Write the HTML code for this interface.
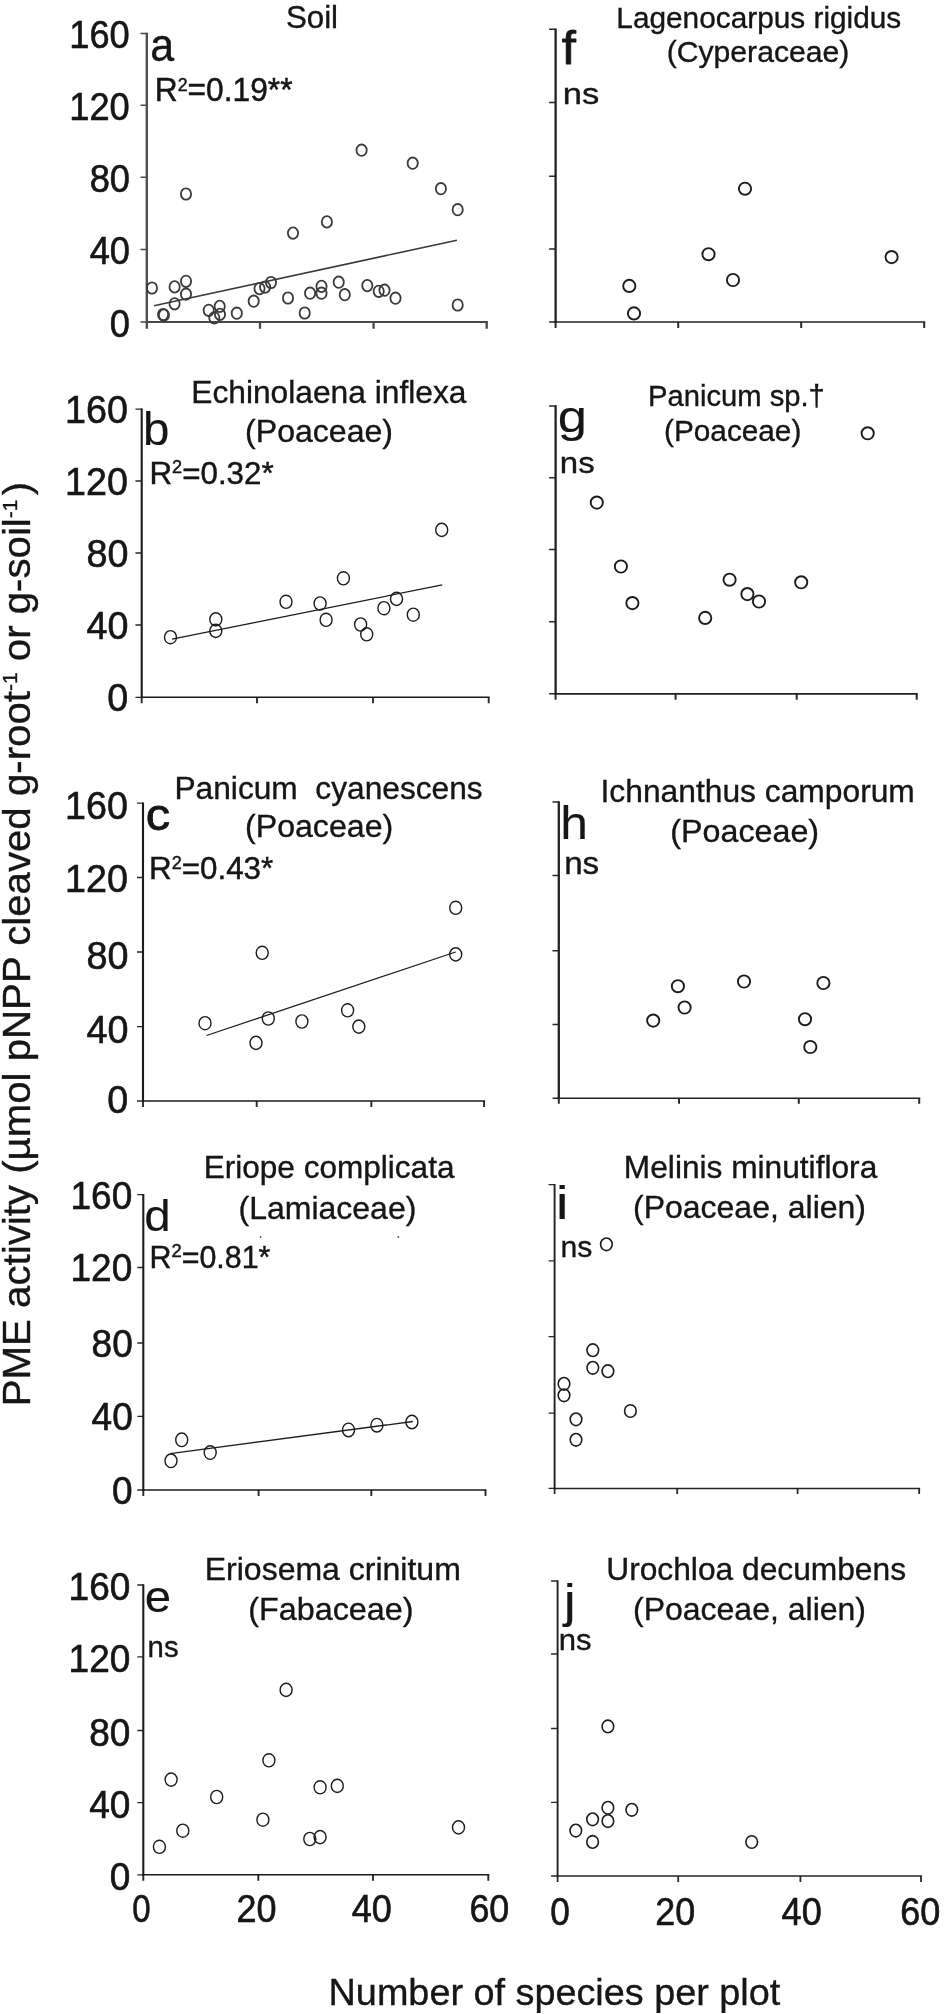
<!DOCTYPE html>
<html lang="en"><head><meta charset="utf-8"><title>PME activity vs. number of species per plot</title>
<style>
html,body{margin:0;padding:0;background:#fff;}
body{width:944px;height:2014px;overflow:hidden;}
svg{display:block;}
svg text{font-family:"Liberation Sans", Arial, Helvetica, sans-serif;fill:#141414;stroke:#141414;stroke-width:0.35px;}
.pt{fill:none;stroke:#1c1c1c;}
.sb{stroke-linejoin:round;}
.tk{stroke-width:0.6px;}.st{stroke-width:0.45px;}.pl{stroke-width:0.1px;}
.fit{stroke:#1c1c1c;stroke-width:1.25;fill:none;}
</style></head><body>
<svg width="944" height="2014" viewBox="0 0 944 2014">
<rect x="0" y="0" width="944" height="2014" fill="#fff"/>
<defs><filter id="soft" x="0" y="0" width="944" height="2014" filterUnits="userSpaceOnUse"><feGaussianBlur stdDeviation="0.45"/></filter></defs>
<g filter="url(#soft)">
<text id="ytitle" transform="matrix(0 -1.0235 1 0 30.4 1406.22)" font-size="39.3" xml:space="preserve">PME activity (µmol pNPP cleaved g-root<tspan font-size="20.5" dy="-13.5">-1</tspan><tspan dy="13.5"> or g-soil</tspan><tspan font-size="20.5" dy="-13.5">-1</tspan><tspan dy="13.5" dx="4.3">)</tspan></text>
<text x="328.57" y="2004.6" font-size="37.8" xml:space="preserve">Number of species per plot</text>
<g id="panel-a">
<path d="M140.5 33.5H146.8M140.5 105.3H146.8M140.5 177.3H146.8M140.5 249.5H146.8M140.5 322H146.8" stroke="#4a4a4a" stroke-width="1.6" fill="none"/>
<path d="M146.8 322V328.8M260 322V328.8M373.6 322V328.8M486.7 322V328.8" stroke="#4a4a4a" stroke-width="2.3" fill="none"/>
<path d="M146.8 32.7V323.05" stroke="#4a4a4a" stroke-width="2.3" fill="none"/>
<path d="M145.65 322H487.85" stroke="#4a4a4a" stroke-width="2.1" fill="none"/>
<text transform="matrix(0.93 0 0 1 69.26 48)" font-size="39" class="tk" xml:space="preserve">160</text>
<text transform="matrix(0.93 0 0 1 69.26 119.8)" font-size="39" class="tk" xml:space="preserve">120</text>
<text transform="matrix(0.93 0 0 1 89.69 191.8)" font-size="39" class="tk" xml:space="preserve">80</text>
<text transform="matrix(0.93 0 0 1 89.69 264)" font-size="39" class="tk" xml:space="preserve">40</text>
<text transform="matrix(0.93 0 0 1 109.82 336.5)" font-size="39" class="tk" xml:space="preserve">0</text>
<line class="fit" x1="154" y1="305.8" x2="456.9" y2="240.2" style="stroke-width:1.6px;stroke:#3a3a3a"/>
<g class="pt" stroke-width="1.8" style="stroke:#3a3a3a">
<ellipse cx="152" cy="288" rx="5.1" ry="5.7"/>
<ellipse cx="163.1" cy="314.5" rx="5.1" ry="5.7"/>
<ellipse cx="163.9" cy="315.1" rx="5.1" ry="5.7"/>
<ellipse cx="174.6" cy="303.8" rx="5.1" ry="5.7"/>
<ellipse cx="174.6" cy="286.9" rx="5.1" ry="5.7"/>
<ellipse cx="186" cy="281.3" rx="5.1" ry="5.7"/>
<ellipse cx="186" cy="294.2" rx="5.1" ry="5.7"/>
<ellipse cx="186" cy="194" rx="5.1" ry="5.7"/>
<ellipse cx="208.7" cy="310.3" rx="5.1" ry="5.7"/>
<ellipse cx="214.3" cy="317.8" rx="5.1" ry="5.7"/>
<ellipse cx="219.7" cy="306.4" rx="5.1" ry="5.7"/>
<ellipse cx="220" cy="314.4" rx="5.1" ry="5.7"/>
<ellipse cx="236.8" cy="313.2" rx="5.1" ry="5.7"/>
<ellipse cx="253.7" cy="301.2" rx="5.1" ry="5.7"/>
<ellipse cx="259.5" cy="288.6" rx="5.1" ry="5.7"/>
<ellipse cx="265.1" cy="287.1" rx="5.1" ry="5.7"/>
<ellipse cx="271" cy="282.5" rx="5.1" ry="5.7"/>
<ellipse cx="288" cy="298" rx="5.1" ry="5.7"/>
<ellipse cx="293" cy="233.1" rx="5.1" ry="5.7"/>
<ellipse cx="304.7" cy="313" rx="5.1" ry="5.7"/>
<ellipse cx="310.1" cy="293.2" rx="5.1" ry="5.7"/>
<ellipse cx="321.5" cy="286.4" rx="5.1" ry="5.7"/>
<ellipse cx="321.5" cy="293.2" rx="5.1" ry="5.7"/>
<ellipse cx="326.9" cy="221.9" rx="5.1" ry="5.7"/>
<ellipse cx="338.7" cy="282.2" rx="5.1" ry="5.7"/>
<ellipse cx="344.8" cy="294.7" rx="5.1" ry="5.7"/>
<ellipse cx="361.6" cy="150.2" rx="5.1" ry="5.7"/>
<ellipse cx="367.3" cy="285.6" rx="5.1" ry="5.7"/>
<ellipse cx="378.7" cy="291.3" rx="5.1" ry="5.7"/>
<ellipse cx="384.5" cy="290.2" rx="5.1" ry="5.7"/>
<ellipse cx="395.5" cy="298.2" rx="5.1" ry="5.7"/>
<ellipse cx="412.7" cy="163.2" rx="5.1" ry="5.7"/>
<ellipse cx="440.9" cy="188.7" rx="5.1" ry="5.7"/>
<ellipse cx="457.7" cy="209.7" rx="5.1" ry="5.7"/>
<ellipse cx="457.7" cy="305" rx="5.1" ry="5.7"/>
</g>
<text x="285.89" y="28" font-size="31.3" xml:space="preserve">Soil</text>
<text transform="matrix(0.9438 0 0 1 150.27 61.2)" font-size="45.5" class="sb" style="stroke-width:0.4px" xml:space="preserve">a</text>
<text class="st" transform="matrix(0.9618 0 0 1 154.76 101.4)" font-size="33">R<tspan font-size="18.5" dy="-10.8">2</tspan><tspan dy="10.8">=0.19**</tspan></text>
</g>
<g id="panel-b">
<path d="M135.4 409.2H141.7M135.4 481H141.7M135.4 553H141.7M135.4 625H141.7M135.4 697.3H141.7" stroke="#2a2a2a" stroke-width="1.3" fill="none"/>
<path d="M141.7 697.3V703.3M257 697.3V703.3M373 697.3V703.3M488.7 697.3V703.3" stroke="#2a2a2a" stroke-width="1.9" fill="none"/>
<path d="M141.7 408.55V698.07" stroke="#1a1a1a" stroke-width="2.1" fill="none"/>
<path d="M140.65 697.3H489.65" stroke="#1a1a1a" stroke-width="1.55" fill="none"/>
<text transform="matrix(0.955 0 0 1 65 423.1)" font-size="39.5" class="tk" xml:space="preserve">160</text>
<text transform="matrix(0.955 0 0 1 65 494.9)" font-size="39.5" class="tk" xml:space="preserve">120</text>
<text transform="matrix(0.955 0 0 1 86.44 566.9)" font-size="39.5" class="tk" xml:space="preserve">80</text>
<text transform="matrix(0.955 0 0 1 86.44 638.9)" font-size="39.5" class="tk" xml:space="preserve">40</text>
<text transform="matrix(0.955 0 0 1 107.37 711.2)" font-size="39.5" class="tk" xml:space="preserve">0</text>
<line class="fit" x1="172" y1="639.2" x2="442.2" y2="584.9" style="stroke-width:1.3px"/>
<g class="pt" stroke-width="1.4">
<ellipse cx="170.5" cy="637.2" rx="6" ry="6.6"/>
<ellipse cx="215.8" cy="619.4" rx="6" ry="6.6"/>
<ellipse cx="215.8" cy="630.9" rx="6" ry="6.6"/>
<ellipse cx="286" cy="601.8" rx="6" ry="6.6"/>
<ellipse cx="320.1" cy="603.5" rx="6" ry="6.6"/>
<ellipse cx="326.1" cy="619.8" rx="6" ry="6.6"/>
<ellipse cx="343.4" cy="578.3" rx="6" ry="6.6"/>
<ellipse cx="360.6" cy="624.5" rx="6" ry="6.6"/>
<ellipse cx="366.7" cy="634.3" rx="6" ry="6.6"/>
<ellipse cx="383.9" cy="608.2" rx="6" ry="6.6"/>
<ellipse cx="396.5" cy="598.9" rx="6" ry="6.6"/>
<ellipse cx="413.3" cy="614.7" rx="6" ry="6.6"/>
<ellipse cx="441.7" cy="529.9" rx="6" ry="6.6"/>
</g>
<text transform="matrix(0.9917 0 0 1 191.26 402.7)" font-size="32" xml:space="preserve">Echinolaena inflexa</text>
<text transform="matrix(1.0181 0 0 1 245.08 442)" font-size="31.5" xml:space="preserve">(Poaceae)</text>
<text transform="matrix(1.0452 0 0 1 143.11 445)" font-size="45.5" class="pl" xml:space="preserve">b</text>
<text class="st" transform="matrix(0.9787 0 0 1 149.49 483.8)" font-size="32">R<tspan font-size="18.5" dy="-10.8">2</tspan><tspan dy="10.8">=0.32*</tspan></text>
</g>
<g id="panel-c">
<path d="M137 803.2H143M137 877.5H143M137 952H143M137 1026.6H143M137 1101H143" stroke="#2a2a2a" stroke-width="1.3" fill="none"/>
<path d="M143 1101V1107M256.7 1101V1107M371.3 1101V1107M484.1 1101V1107" stroke="#2a2a2a" stroke-width="1.9" fill="none"/>
<path d="M143 802.55V1101.78" stroke="#1a1a1a" stroke-width="2.1" fill="none"/>
<path d="M141.95 1101H485.05" stroke="#1a1a1a" stroke-width="1.55" fill="none"/>
<text transform="matrix(0.955 0 0 1 65 819.4)" font-size="39.5" class="tk" xml:space="preserve">160</text>
<text transform="matrix(0.955 0 0 1 65 892.4)" font-size="39.5" class="tk" xml:space="preserve">120</text>
<text transform="matrix(0.955 0 0 1 86.44 969.3)" font-size="39.5" class="tk" xml:space="preserve">80</text>
<text transform="matrix(0.955 0 0 1 86.44 1042.5)" font-size="39.5" class="tk" xml:space="preserve">40</text>
<text transform="matrix(0.955 0 0 1 107.37 1112.9)" font-size="39.5" class="tk" xml:space="preserve">0</text>
<line class="fit" x1="206.5" y1="1035.5" x2="455.7" y2="952" style="stroke-width:1.3px"/>
<g class="pt" stroke-width="1.4">
<ellipse cx="205" cy="1023.2" rx="6" ry="6.6"/>
<ellipse cx="256" cy="1042.9" rx="6" ry="6.6"/>
<ellipse cx="262.2" cy="952.8" rx="6" ry="6.6"/>
<ellipse cx="268.3" cy="1018.5" rx="6" ry="6.6"/>
<ellipse cx="301.9" cy="1021.5" rx="6" ry="6.6"/>
<ellipse cx="347.6" cy="1010.3" rx="6" ry="6.6"/>
<ellipse cx="358.8" cy="1026.6" rx="6" ry="6.6"/>
<ellipse cx="455.7" cy="907.8" rx="6" ry="6.6"/>
<ellipse cx="455.7" cy="954.4" rx="6" ry="6.6"/>
</g>
<text transform="matrix(1.0225 0 0 1 174.46 798.6)" font-size="31" xml:space="preserve">Panicum  cyanescens</text>
<text transform="matrix(1.036 0 0 1 245.07 837.3)" font-size="31" xml:space="preserve">(Poaceae)</text>
<text transform="matrix(1.0853 0 0 1 145.7 830.3)" font-size="45" class="sb" style="stroke-width:0.8px" xml:space="preserve">c</text>
<text class="st" transform="matrix(0.9803 0 0 1 148.99 879.4)" font-size="32">R<tspan font-size="18.5" dy="-10.8">2</tspan><tspan dy="10.8">=0.43*</tspan></text>
</g>
<g id="panel-d">
<path d="M137.3 1194.7H143.3M137.3 1267.5H143.3M137.3 1343H143.3M137.3 1416.3H143.3M137.3 1490H143.3" stroke="#2a2a2a" stroke-width="1.3" fill="none"/>
<path d="M143.3 1490V1496M258.6 1490V1496M371.3 1490V1496M485.5 1490V1496" stroke="#2a2a2a" stroke-width="1.9" fill="none"/>
<path d="M143.3 1194.05V1490.78" stroke="#1a1a1a" stroke-width="2.1" fill="none"/>
<path d="M142.25 1490H486.45" stroke="#1a1a1a" stroke-width="1.55" fill="none"/>
<text transform="matrix(0.95 0 0 1 70.49 1208.5)" font-size="39" class="tk" xml:space="preserve">160</text>
<text transform="matrix(0.95 0 0 1 70.49 1281.3)" font-size="39" class="tk" xml:space="preserve">120</text>
<text transform="matrix(0.95 0 0 1 91.56 1356.8)" font-size="39" class="tk" xml:space="preserve">80</text>
<text transform="matrix(0.95 0 0 1 91.56 1430.1)" font-size="39" class="tk" xml:space="preserve">40</text>
<text transform="matrix(0.95 0 0 1 112.12 1503.8)" font-size="39" class="tk" xml:space="preserve">0</text>
<line class="fit" x1="170" y1="1453.6" x2="412.8" y2="1421.5" style="stroke-width:1.3px"/>
<g class="pt" stroke-width="1.4">
<ellipse cx="171" cy="1460.8" rx="6" ry="6.8"/>
<ellipse cx="181.7" cy="1439.8" rx="6" ry="6.8"/>
<ellipse cx="210.2" cy="1452.6" rx="6" ry="6.8"/>
<ellipse cx="348.5" cy="1429.9" rx="6" ry="6.8"/>
<ellipse cx="376.9" cy="1425.2" rx="6" ry="6.8"/>
<ellipse cx="411.9" cy="1422" rx="6" ry="6.8"/>
</g>
<circle cx="260.6" cy="1237" r="0.9" fill="#555"/>
<circle cx="398.3" cy="1237" r="0.9" fill="#555"/>
<text transform="matrix(0.9866 0 0 1 203.67 1178.1)" font-size="32" xml:space="preserve">Eriope complicata</text>
<text x="238.48" y="1218.8" font-size="32" xml:space="preserve">(Lamiaceae)</text>
<text transform="matrix(1.0687 0 0 1 144.3 1231)" font-size="44.5" class="pl" xml:space="preserve">d</text>
<text class="st" transform="matrix(0.9956 0 0 1 149.57 1268)" font-size="30.5">R<tspan font-size="18.5" dy="-10.8">2</tspan><tspan dy="10.8">=0.81*</tspan></text>
</g>
<g id="panel-e">
<path d="M137.3 1585H143.3M137.3 1656.8H143.3M137.3 1730.5H143.3M137.3 1802.6H143.3M137.3 1874.8H143.3" stroke="#2a2a2a" stroke-width="1.3" fill="none"/>
<path d="M143.3 1874.8V1880.8M258.3 1874.8V1880.8M373 1874.8V1880.8M488.3 1874.8V1880.8" stroke="#2a2a2a" stroke-width="1.9" fill="none"/>
<path d="M143.3 1584.35V1875.58" stroke="#1a1a1a" stroke-width="2.1" fill="none"/>
<path d="M142.25 1874.8H489.25" stroke="#1a1a1a" stroke-width="1.55" fill="none"/>
<text transform="matrix(0.95 0 0 1 68.59 1600.4)" font-size="39" class="tk" xml:space="preserve">160</text>
<text transform="matrix(0.95 0 0 1 68.59 1672.2)" font-size="39" class="tk" xml:space="preserve">120</text>
<text transform="matrix(0.95 0 0 1 89.16 1745.9)" font-size="39" class="tk" xml:space="preserve">80</text>
<text transform="matrix(0.95 0 0 1 89.16 1818)" font-size="39" class="tk" xml:space="preserve">40</text>
<text transform="matrix(0.95 0 0 1 109.72 1890.2)" font-size="39" class="tk" xml:space="preserve">0</text>
<text transform="matrix(0.8475 0 0 1 132.28 1922.1)" font-size="39" class="tk" xml:space="preserve">0</text>
<text transform="matrix(0.9226 0 0 1 236.5 1922.1)" font-size="39" class="tk" xml:space="preserve">20</text>
<text transform="matrix(0.925 0 0 1 351.7 1922.1)" font-size="39" class="tk" xml:space="preserve">40</text>
<text transform="matrix(0.9201 0 0 1 469.41 1922.1)" font-size="39" class="tk" xml:space="preserve">60</text>
<g class="pt" stroke-width="1.4">
<ellipse cx="159.4" cy="1846.8" rx="6" ry="6.6"/>
<ellipse cx="171.1" cy="1779.6" rx="6" ry="6.6"/>
<ellipse cx="182.8" cy="1830.7" rx="6" ry="6.6"/>
<ellipse cx="216.7" cy="1797" rx="6" ry="6.6"/>
<ellipse cx="262.9" cy="1819.7" rx="6" ry="6.6"/>
<ellipse cx="268.9" cy="1760.3" rx="6" ry="6.6"/>
<ellipse cx="286.1" cy="1689.9" rx="6" ry="6.6"/>
<ellipse cx="309.8" cy="1839" rx="6" ry="6.6"/>
<ellipse cx="320.1" cy="1837.1" rx="6" ry="6.6"/>
<ellipse cx="320.1" cy="1787.3" rx="6" ry="6.6"/>
<ellipse cx="337.3" cy="1785.9" rx="6" ry="6.6"/>
<ellipse cx="458.5" cy="1827.4" rx="6" ry="6.6"/>
</g>
<text x="204.75" y="1580.4" font-size="32" xml:space="preserve">Eriosema crinitum</text>
<text transform="matrix(1.0095 0 0 1 248.36 1620.2)" font-size="32" xml:space="preserve">(Fabaceae)</text>
<text transform="matrix(1.0632 0 0 1 144.77 1612)" font-size="44.5" class="pl" xml:space="preserve">e</text>
<text transform="matrix(0.9773 0 0 1 147.59 1657)" font-size="30" xml:space="preserve">ns</text>
</g>
<g id="panel-f">
<path d="M549.1 29.3H555.6M549.1 102.5H555.6M549.1 176.2H555.6M549.1 249H555.6M549.1 322H555.6" stroke="#2a2a2a" stroke-width="1.5" fill="none"/>
<path d="M555.6 322V328M678.2 322V328M801.2 322V328M924.2 322V328" stroke="#2a2a2a" stroke-width="2" fill="none"/>
<path d="M555.6 28.55V322.82" stroke="#222" stroke-width="2.3" fill="none"/>
<path d="M554.45 322H925.2" stroke="#222" stroke-width="1.65" fill="none"/>
<g class="pt" stroke-width="1.9">
<circle cx="629.3" cy="285.9" r="6.1"/>
<circle cx="634" cy="313.4" r="6.1"/>
<circle cx="708.5" cy="254.2" r="6.1"/>
<circle cx="733" cy="280" r="6.1"/>
<circle cx="745" cy="188.7" r="6.1"/>
<circle cx="891.6" cy="257.1" r="6.1"/>
</g>
<text x="616.32" y="27.6" font-size="29.8" xml:space="preserve">Lagenocarpus rigidus</text>
<text transform="matrix(1.0121 0 0 1 666.69 62.3)" font-size="29.8" xml:space="preserve">(Cyperaceae)</text>
<text transform="matrix(1.1075 0 0 1 561.64 64)" font-size="46" class="sb" style="stroke-width:0.8px" xml:space="preserve">f</text>
<text transform="matrix(1.1518 0 0 1 562.75 103.8)" font-size="30" xml:space="preserve">ns</text>
</g>
<g id="panel-g">
<path d="M549.1 406.1H555.6M549.1 477.8H555.6M549.1 549.4H555.6M549.1 621.7H555.6M549.1 693.8H555.6" stroke="#2a2a2a" stroke-width="1.5" fill="none"/>
<path d="M555.6 693.8V699.8M675.6 693.8V699.8M796.7 693.8V699.8M916.7 693.8V699.8" stroke="#2a2a2a" stroke-width="2" fill="none"/>
<path d="M555.6 405.35V694.62" stroke="#222" stroke-width="2.3" fill="none"/>
<path d="M554.45 693.8H917.7" stroke="#222" stroke-width="1.65" fill="none"/>
<g class="pt" stroke-width="1.9">
<circle cx="596.8" cy="502.6" r="6.1"/>
<circle cx="620.9" cy="566.5" r="6.1"/>
<circle cx="632.4" cy="603.1" r="6.1"/>
<circle cx="705.2" cy="617.9" r="6.1"/>
<circle cx="729.6" cy="579.7" r="6.1"/>
<circle cx="747.4" cy="594.1" r="6.1"/>
<circle cx="759" cy="601.5" r="6.1"/>
<circle cx="801.2" cy="582.3" r="6.1"/>
<circle cx="867.7" cy="433.3" r="6.1"/>
</g>
<text transform="matrix(0.9798 0 0 1 647.96 406.2)" font-size="29.8" xml:space="preserve">Panicum sp.†</text>
<text transform="matrix(1.0094 0 0 1 664.01 440.6)" font-size="29.5" xml:space="preserve">(Poaceae)</text>
<text transform="matrix(1.1835 0 0 1 557.79 431.9)" font-size="44.5" class="pl" xml:space="preserve">g</text>
<text transform="matrix(1.1181 0 0 1 559.86 472.5)" font-size="29.5" xml:space="preserve">ns</text>
</g>
<g id="panel-h">
<path d="M552.5 802H558.8M552.5 875.6H558.8M552.5 950.8H558.8M552.5 1024.5H558.8M552.5 1098.2H558.8" stroke="#2a2a2a" stroke-width="1.5" fill="none"/>
<path d="M558.8 1098.2V1103.7M679 1098.2V1103.7M798.8 1098.2V1103.7M919.2 1098.2V1103.7" stroke="#2a2a2a" stroke-width="2" fill="none"/>
<path d="M558.8 801.25V1099.03" stroke="#222" stroke-width="2.3" fill="none"/>
<path d="M557.65 1098.2H920.2" stroke="#222" stroke-width="1.65" fill="none"/>
<g class="pt" stroke-width="1.9">
<circle cx="653.2" cy="1020.6" r="6.1"/>
<circle cx="677.9" cy="986.2" r="6.1"/>
<circle cx="684.6" cy="1007.5" r="6.1"/>
<circle cx="744" cy="981.5" r="6.1"/>
<circle cx="805" cy="1019.2" r="6.1"/>
<circle cx="810.3" cy="1047" r="6.1"/>
<circle cx="823.4" cy="983" r="6.1"/>
</g>
<text transform="matrix(0.9932 0 0 1 600.54 802)" font-size="32" xml:space="preserve">Ichnanthus camporum</text>
<text transform="matrix(1.0071 0 0 1 670.37 842.2)" font-size="32" xml:space="preserve">(Poaceae)</text>
<text transform="matrix(1.0818 0 0 1 560.22 838.8)" font-size="46" class="pl" xml:space="preserve">h</text>
<text transform="matrix(1.0883 0 0 1 564.14 874.3)" font-size="30.5" xml:space="preserve">ns</text>
</g>
<g id="panel-i">
<path d="M548.6 1184.7H554.6M548.6 1260.8H554.6M548.6 1336.6H554.6M548.6 1413.2H554.6M548.6 1488.4H554.6" stroke="#2a2a2a" stroke-width="1.3" fill="none"/>
<path d="M554.6 1488.4V1493.9M677.2 1488.4V1493.9M797.6 1488.4V1493.9M919.2 1488.4V1493.9" stroke="#2a2a2a" stroke-width="1.8" fill="none"/>
<path d="M554.6 1184.05V1489.18" stroke="#222" stroke-width="1.9" fill="none"/>
<path d="M553.65 1488.4H920.1" stroke="#222" stroke-width="1.55" fill="none"/>
<g class="pt" stroke-width="1.6">
<ellipse cx="564" cy="1383.8" rx="5.8" ry="6.3"/>
<ellipse cx="564" cy="1395.3" rx="5.8" ry="6.3"/>
<ellipse cx="576" cy="1419.3" rx="5.8" ry="6.3"/>
<ellipse cx="576" cy="1439.8" rx="5.8" ry="6.3"/>
<ellipse cx="592.8" cy="1350.2" rx="5.8" ry="6.3"/>
<ellipse cx="592.8" cy="1367.8" rx="5.8" ry="6.3"/>
<ellipse cx="607.9" cy="1371.2" rx="5.8" ry="6.3"/>
<ellipse cx="606.4" cy="1244.3" rx="5.8" ry="6.3"/>
<ellipse cx="630.4" cy="1411" rx="5.8" ry="6.3"/>
</g>
<text transform="matrix(0.9896 0 0 1 623.87 1178.2)" font-size="32" xml:space="preserve">Melinis minutiflora</text>
<text x="632.98" y="1217.8" font-size="32" xml:space="preserve">(Poaceae, alien)</text>
<text transform="matrix(1.2698 0 0 1 555.64 1219.3)" font-size="45.5" class="pl" xml:space="preserve">i</text>
<text transform="matrix(1.0052 0 0 1 560.54 1257)" font-size="30" xml:space="preserve">ns</text>
</g>
<g id="panel-j">
<path d="M551.1 1581H557.6M551.1 1654H557.6M551.1 1728.5H557.6M551.1 1802.4H557.6M551.1 1876H557.6" stroke="#2a2a2a" stroke-width="1.3" fill="none"/>
<path d="M557.6 1876V1882M678.2 1876V1882M800.4 1876V1882M921 1876V1882" stroke="#2a2a2a" stroke-width="1.8" fill="none"/>
<path d="M557.6 1580.35V1876.78" stroke="#222" stroke-width="1.9" fill="none"/>
<path d="M556.65 1876H921.9" stroke="#222" stroke-width="1.55" fill="none"/>
<text transform="matrix(0.9015 0 0 1 550.19 1924.8)" font-size="39" class="tk" xml:space="preserve">0</text>
<text transform="matrix(0.9201 0 0 1 655.21 1924.8)" font-size="39" class="tk" xml:space="preserve">20</text>
<text transform="matrix(0.925 0 0 1 781.6 1924.8)" font-size="39" class="tk" xml:space="preserve">40</text>
<text transform="matrix(0.9251 0 0 1 900.2 1924.8)" font-size="39" class="tk" xml:space="preserve">60</text>
<g class="pt" stroke-width="1.6">
<ellipse cx="575.8" cy="1830.6" rx="5.8" ry="6.3"/>
<ellipse cx="592.6" cy="1819.3" rx="5.8" ry="6.3"/>
<ellipse cx="592.6" cy="1841.9" rx="5.8" ry="6.3"/>
<ellipse cx="607.9" cy="1726.4" rx="5.8" ry="6.3"/>
<ellipse cx="607.9" cy="1807.8" rx="5.8" ry="6.3"/>
<ellipse cx="607.9" cy="1821.1" rx="5.8" ry="6.3"/>
<ellipse cx="631.8" cy="1809.8" rx="5.8" ry="6.3"/>
<ellipse cx="751.7" cy="1842" rx="5.8" ry="6.3"/>
</g>
<text transform="matrix(0.9917 0 0 1 606.22 1580.4)" font-size="32" xml:space="preserve">Urochloa decumbens</text>
<text x="632.98" y="1620" font-size="32" xml:space="preserve">(Poaceae, alien)</text>
<text transform="matrix(1.1715 0 0 1 563.75 1616.5)" font-size="46" class="pl" xml:space="preserve">j</text>
<text transform="matrix(1.0366 0 0 1 558.78 1649.6)" font-size="30" xml:space="preserve">ns</text>
</g>
</g>
</svg>
</body></html>
